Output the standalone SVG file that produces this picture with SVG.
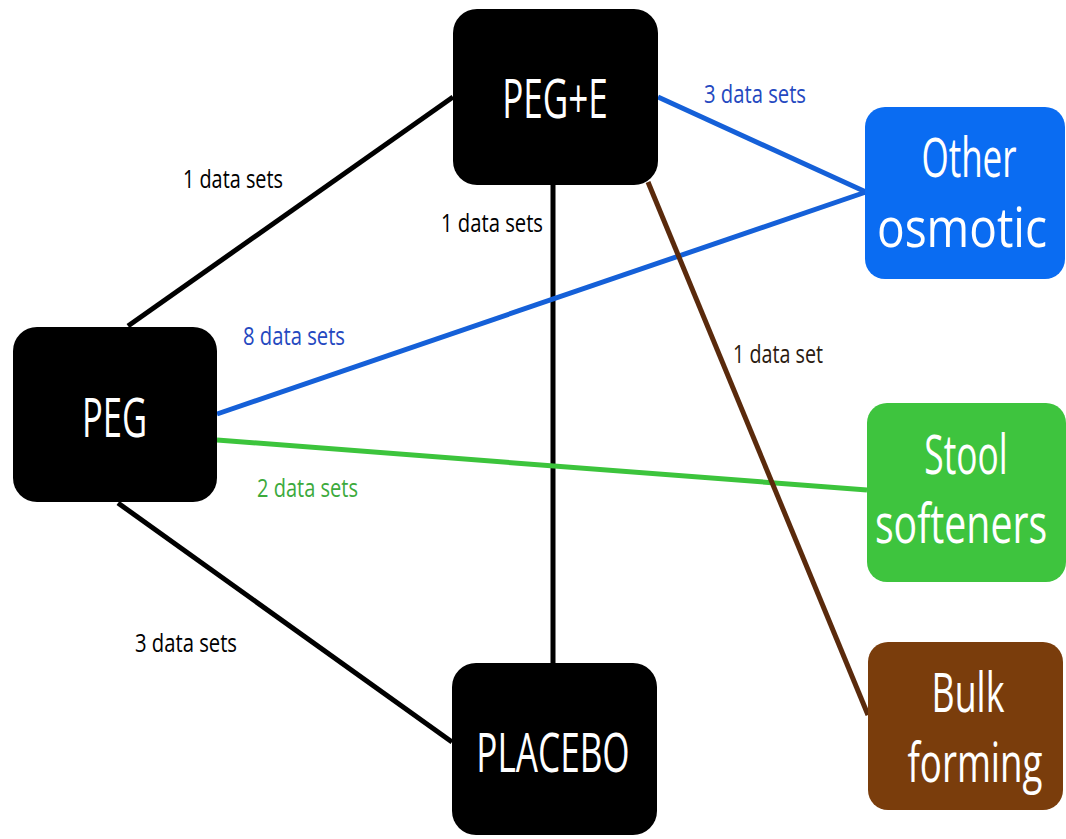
<svg xmlns="http://www.w3.org/2000/svg" width="1066" height="839" viewBox="0 0 1066 839">
<style>
.lbl{font-family:"Open Sans","Liberation Sans",sans-serif;font-size:25px}
.nt{font-family:"Open Sans","Liberation Sans",sans-serif;font-size:54px;fill:#fff;text-anchor:middle}
.ln{stroke-width:5;fill:none;stroke-linecap:butt}
</style>
<rect width="1066" height="839" fill="#fff"/>
<g id="connectors">
<line class="ln" x1="128" y1="326" x2="453" y2="97" stroke="#000"/>
<line class="ln" x1="118" y1="503" x2="452" y2="742" stroke="#000"/>
<line class="ln" x1="553" y1="185" x2="553" y2="663" stroke="#000"/>
<line class="ln" x1="658" y1="97" x2="866" y2="192" stroke="#1560d8"/>
<line class="ln" x1="217" y1="414" x2="866" y2="192" stroke="#1560d8"/>
<line class="ln" x1="217" y1="440" x2="867" y2="490" stroke="#3cc43c"/>
<line class="ln" x1="648" y1="182" x2="868" y2="715" stroke="#5a2a0c"/>
<text class="lbl" x="183" y="188" fill="#000" textLength="100" lengthAdjust="spacingAndGlyphs">1 data sets</text>
<text class="lbl" x="441" y="232" fill="#000" textLength="102" lengthAdjust="spacingAndGlyphs">1 data sets</text>
<text class="lbl" x="704" y="103" fill="#2448c0" textLength="102" lengthAdjust="spacingAndGlyphs">3 data sets</text>
<text class="lbl" x="243" y="345" fill="#2448c0" textLength="102" lengthAdjust="spacingAndGlyphs">8 data sets</text>
<text class="lbl" x="733" y="363" fill="#2a1a10" textLength="90" lengthAdjust="spacingAndGlyphs">1 data set</text>
<text class="lbl" x="257" y="497" fill="#3caa3c" textLength="101" lengthAdjust="spacingAndGlyphs">2 data sets</text>
<text class="lbl" x="135" y="652" fill="#000" textLength="102" lengthAdjust="spacingAndGlyphs">3 data sets</text>
</g>
<g id="node-pege">
<rect x="453" y="9" width="205" height="176" rx="24" fill="#000"/>
<text class="nt" transform="translate(555,118) scale(0.7,1)" textLength="151" lengthAdjust="spacingAndGlyphs">PEG+E</text>
</g>
<g id="node-peg">
<rect x="13" y="327" width="204" height="175" rx="24" fill="#000"/>
<text class="nt" transform="translate(114.5,437) scale(0.7,1)" textLength="93" lengthAdjust="spacingAndGlyphs">PEG</text>
</g>
<g id="node-placebo">
<rect x="452" y="663" width="205" height="172" rx="24" fill="#000"/>
<text class="nt" transform="translate(553,772) scale(0.7,1)" textLength="219" lengthAdjust="spacingAndGlyphs">PLACEBO</text>
</g>
<g id="node-osmotic">
<rect x="865" y="107" width="200" height="172" rx="20" fill="#0a6cf2"/>
<text class="nt" transform="translate(969,177) scale(0.7,1)" textLength="136" lengthAdjust="spacingAndGlyphs">Other</text>
<text class="nt" transform="translate(962,247) scale(0.7,1)" textLength="243" lengthAdjust="spacingAndGlyphs">osmotic</text>
</g>
<g id="node-stool">
<rect x="867" y="403" width="199" height="179" rx="20" fill="#3ec43e"/>
<text class="nt" transform="translate(966,474) scale(0.7,1)" textLength="119" lengthAdjust="spacingAndGlyphs">Stool</text>
<text class="nt" transform="translate(961,543) scale(0.7,1)" textLength="246" lengthAdjust="spacingAndGlyphs">softeners</text>
</g>
<g id="node-bulk">
<rect x="868" y="642" width="195" height="168" rx="20" fill="#7a3d0c"/>
<text class="nt" transform="translate(968,712) scale(0.7,1)" textLength="104" lengthAdjust="spacingAndGlyphs" fill="#fff8ee">Bulk</text>
<text class="nt" transform="translate(975,782) scale(0.7,1)" textLength="193" lengthAdjust="spacingAndGlyphs" fill="#fff8ee">forming</text>
</g>
</svg>
